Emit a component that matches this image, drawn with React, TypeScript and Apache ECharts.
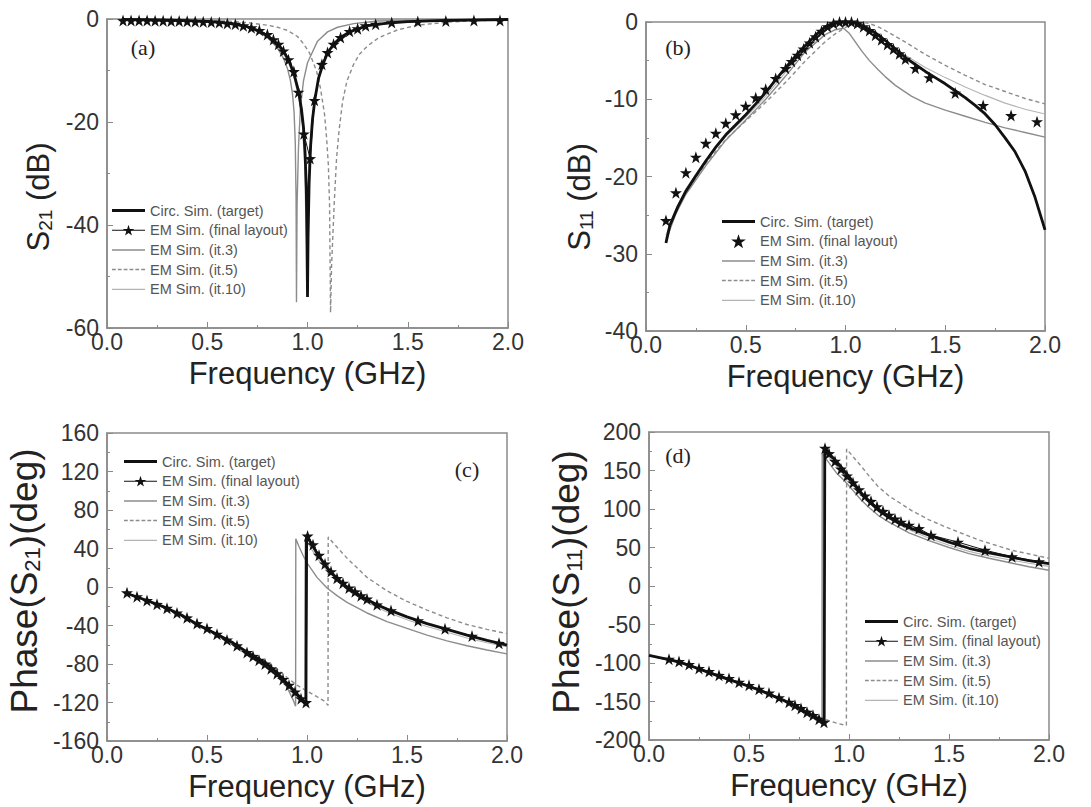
import React, { useEffect, useRef } from "react";
import * as echarts from "echarts";

// ---------- data (frequency GHz, value) ----------
const freqTicks = [0, 0.5, 1.0, 1.5, 2.0];
const legendNames = ["Circ. Sim. (target)", "EM Sim. (final layout)", "EM Sim. (it.3)", "EM Sim. (it.5)", "EM Sim. (it.10)"];
const panelLabels = ["(a)", "(b)", "(c)", "(d)"];

// (a) |S21| dB
const aTarget = [[0.08,-0.1],[0.2,-0.15],[0.3,-0.2],[0.4,-0.3],[0.5,-0.45],[0.6,-0.8],[0.65,-1.1],[0.7,-1.5],[0.75,-2.2],[0.8,-3.2],[0.85,-4.8],[0.88,-6.2],[0.91,-8.3],[0.935,-11],[0.955,-14],[0.97,-17.5],[0.98,-21],[0.988,-26],[0.994,-33],[0.998,-44],[1.0,-54],[1.003,-42],[1.008,-32],[1.015,-25],[1.025,-19.5],[1.037,-15.6],[1.055,-11.5],[1.077,-8.8],[1.1,-6.6],[1.13,-4.9],[1.165,-3.6],[1.21,-2.5],[1.26,-1.8],[1.3,-1.3],[1.4,-0.8],[1.5,-0.5],[1.65,-0.3],[1.8,-0.2],[2.0,-0.1]];
const aFinal = [[0.08,-0.3],[0.12,-0.3],[0.16,-0.3],[0.2,-0.3],[0.24,-0.35],[0.28,-0.35],[0.32,-0.4],[0.36,-0.4],[0.4,-0.45],[0.44,-0.5],[0.48,-0.55],[0.52,-0.6],[0.56,-0.7],[0.6,-0.85],[0.64,-1.0],[0.68,-1.3],[0.72,-1.7],[0.76,-2.2],[0.8,-3.0],[0.83,-4.0],[0.855,-4.9],[0.88,-6.2],[0.905,-7.9],[0.932,-10.2],[0.955,-14.2],[0.982,-22.3],[1.013,-27.1],[1.035,-15.8],[1.072,-8.8],[1.1,-6.5],[1.13,-4.9],[1.165,-3.6],[1.21,-2.4],[1.25,-1.9],[1.29,-1.3],[1.34,-1.0],[1.42,-0.7],[1.55,-0.5],[1.69,-0.4],[1.83,-0.3],[1.96,-0.3]];
const aIt3 = [[0.08,-0.1],[0.3,-0.2],[0.5,-0.4],[0.6,-0.8],[0.7,-1.6],[0.75,-2.4],[0.8,-3.6],[0.85,-5.6],[0.88,-7.6],[0.9,-9.6],[0.915,-12],[0.925,-14.5],[0.933,-18],[0.939,-24],[0.943,-35],[0.945,-55],[0.948,-36],[0.955,-25],[0.965,-17],[0.98,-12],[1.0,-8.5],[1.05,-4.3],[1.1,-2.5],[1.15,-1.6],[1.23,-0.9],[1.35,-0.4],[1.6,-0.2],[2.0,-0.1]];
const aIt5 = [[0.08,-0.1],[0.4,-0.2],[0.6,-0.4],[0.7,-0.7],[0.8,-1.2],[0.85,-1.6],[0.9,-2.2],[0.95,-3.4],[0.98,-4.8],[1.01,-6.6],[1.045,-10.1],[1.065,-13.5],[1.085,-18.5],[1.095,-23],[1.104,-28.3],[1.11,-36],[1.115,-57],[1.12,-48],[1.133,-36],[1.145,-27],[1.157,-21.8],[1.175,-16],[1.197,-12],[1.23,-8.8],[1.26,-6.8],[1.3,-5.2],[1.357,-3.6],[1.45,-2.1],[1.55,-1.2],[1.7,-0.6],[1.85,-0.3],[2.0,-0.2]];
const aIt10 = [[0.08,-0.1],[0.5,-0.45],[0.7,-1.6],[0.8,-3.3],[0.85,-5.0],[0.9,-8.0],[0.93,-11],[0.955,-15],[0.975,-21],[0.985,-28],[0.992,-40],[0.995,-52],[0.998,-40],[1.005,-29],[1.02,-20],[1.035,-15.5],[1.06,-10.5],[1.09,-7.3],[1.13,-4.8],[1.2,-2.7],[1.3,-1.4],[1.5,-0.5],[2.0,-0.1]];

// (b) |S11| dB
const bTarget = [[0.1,-28.6],[0.12,-26.3],[0.16,-23.9],[0.2,-21.9],[0.25,-19.9],[0.3,-18.0],[0.35,-16.2],[0.4,-14.6],[0.45,-13.3],[0.5,-12.0],[0.55,-10.6],[0.6,-9.1],[0.65,-7.5],[0.7,-5.9],[0.75,-4.4],[0.8,-3.0],[0.85,-1.7],[0.9,-0.6],[0.95,-0.1],[1.0,0],[1.05,-0.1],[1.1,-0.7],[1.15,-1.4],[1.2,-2.4],[1.25,-3.5],[1.3,-4.6],[1.35,-5.5],[1.4,-6.4],[1.45,-7.2],[1.5,-8.0],[1.55,-8.9],[1.6,-9.8],[1.65,-10.8],[1.7,-11.9],[1.75,-13.3],[1.8,-15.0],[1.85,-16.8],[1.9,-19.3],[1.95,-22.7],[2.0,-26.9]];
const bFinal = [[0.1,-25.7],[0.15,-22.1],[0.2,-19.5],[0.25,-17.5],[0.3,-15.7],[0.35,-14.4],[0.4,-13.1],[0.45,-12.0],[0.5,-10.9],[0.55,-9.8],[0.6,-8.7],[0.65,-7.3],[0.7,-6.0],[0.73,-5.1],[0.76,-4.3],[0.79,-3.5],[0.82,-2.7],[0.85,-1.9],[0.88,-1.2],[0.91,-0.6],[0.94,-0.2],[0.97,0],[1.0,0],[1.03,0],[1.06,-0.2],[1.09,-0.6],[1.12,-1.1],[1.15,-1.7],[1.18,-2.3],[1.21,-2.9],[1.24,-3.5],[1.27,-4.1],[1.3,-4.8],[1.35,-6.0],[1.42,-7.2],[1.55,-9.2],[1.69,-10.8],[1.83,-12.1],[1.96,-12.9]];
const bIt3 = [[0.1,-28.3],[0.15,-24.8],[0.2,-22.3],[0.3,-18.6],[0.4,-15.3],[0.5,-12.7],[0.6,-10.0],[0.7,-7.0],[0.8,-3.8],[0.9,-1.6],[0.95,-1.0],[0.99,-0.8],[1.02,-1.5],[1.05,-2.6],[1.08,-3.7],[1.12,-5.0],[1.165,-6.2],[1.2,-7.1],[1.25,-8.2],[1.33,-9.6],[1.4,-10.5],[1.5,-11.4],[1.6,-12.2],[1.7,-13.0],[1.8,-13.7],[1.9,-14.3],[2.0,-14.9]];
const bIt5 = [[0.1,-28.0],[0.15,-24.6],[0.2,-22.0],[0.3,-18.3],[0.4,-15.2],[0.5,-12.8],[0.6,-10.4],[0.7,-7.8],[0.8,-5.0],[0.9,-2.5],[0.95,-1.5],[1.0,-0.7],[1.04,-0.2],[1.08,0],[1.12,-0.2],[1.17,-0.7],[1.22,-1.4],[1.3,-2.6],[1.4,-4.2],[1.5,-5.6],[1.6,-6.9],[1.7,-8.1],[1.8,-9.0],[1.9,-9.9],[2.0,-10.6]];
const bIt10 = [[0.1,-27.6],[0.15,-24.2],[0.2,-21.6],[0.3,-17.8],[0.4,-14.8],[0.5,-12.3],[0.6,-9.6],[0.7,-6.5],[0.8,-3.4],[0.9,-0.9],[0.95,-0.2],[1.0,0],[1.05,-0.2],[1.1,-0.8],[1.2,-2.5],[1.3,-4.3],[1.4,-5.9],[1.5,-7.2],[1.6,-8.4],[1.7,-9.5],[1.8,-10.5],[1.9,-11.3],[2.0,-11.9]];

// (c) Phase(S21) deg
const cTarget = [[0.09,-6],[0.2,-14],[0.3,-22],[0.38,-30],[0.46,-40],[0.55,-49],[0.63,-58],[0.71,-69],[0.8,-80],[0.85,-89],[0.9,-100],[0.95,-111],[0.98,-118],[0.995,-121],[0.997,54],[1.01,49],[1.05,35],[1.1,20],[1.15,9],[1.2,0],[1.25,-7],[1.3,-13],[1.35,-18.5],[1.4,-23],[1.5,-31],[1.6,-38],[1.7,-44],[1.8,-50],[1.9,-55.5],[2.0,-60.5]];
const cFinal = [[0.1,-6],[0.15,-10],[0.2,-14],[0.25,-18],[0.3,-22],[0.35,-27],[0.4,-32],[0.45,-38],[0.5,-43],[0.55,-49],[0.6,-55],[0.65,-61],[0.7,-68],[0.73,-72],[0.76,-76],[0.79,-80],[0.82,-85],[0.85,-90],[0.88,-96],[0.91,-102],[0.94,-109],[0.97,-116],[0.995,-120],[1.003,53],[1.03,44],[1.06,33],[1.09,24],[1.12,16],[1.15,9],[1.18,4],[1.21,-1],[1.24,-5],[1.27,-9],[1.3,-12.5],[1.35,-18.5],[1.42,-24.5],[1.555,-35],[1.69,-43.5],[1.825,-51],[1.96,-58.5]];
const cIt3 = [[0.09,-6],[0.3,-22],[0.5,-44],[0.7,-69],[0.8,-82],[0.85,-91],[0.9,-104],[0.93,-117],[0.943,-124],[0.944,50],[0.96,42],[0.98,33],[1.0,25],[1.05,10],[1.1,-1],[1.15,-9],[1.2,-16],[1.3,-27],[1.4,-36],[1.5,-43],[1.6,-50],[1.7,-56],[1.8,-61],[1.9,-65.5],[2.0,-69.5]];
const cIt5 = [[0.09,-6],[0.3,-22],[0.5,-43],[0.7,-67],[0.8,-78],[0.85,-85],[0.9,-94],[0.95,-102],[1.0,-108],[1.05,-114],[1.09,-119],[1.105,-123],[1.106,52],[1.13,46],[1.2,30],[1.3,10],[1.4,-4],[1.5,-15],[1.6,-24],[1.7,-32],[1.8,-39],[1.9,-44],[2.0,-48.5]];
const cIt10 = [[0.09,-6],[0.3,-22],[0.5,-44],[0.7,-68],[0.8,-80],[0.9,-101],[0.95,-112],[0.988,-121],[0.99,50],[1.0,47],[1.05,30],[1.1,17],[1.2,-3],[1.3,-16],[1.4,-26],[1.5,-34],[1.6,-41],[1.7,-47],[1.8,-53],[1.9,-58],[2.0,-62]];

// (d) Phase(S11) deg
const dTarget = [[0,-90],[0.1,-95.5],[0.15,-98.5],[0.2,-103],[0.3,-112.5],[0.4,-121.5],[0.48,-128.6],[0.55,-135],[0.65,-146],[0.72,-154],[0.78,-163],[0.83,-170],[0.876,-177],[0.879,180],[0.9,172],[0.95,158],[1.0,142],[1.06,121],[1.1,110],[1.15,98],[1.2,89],[1.25,82],[1.3,76],[1.35,71],[1.4,66],[1.5,57],[1.6,49],[1.7,43],[1.8,38],[1.9,33],[2.0,29]];
const dFinal = [[0.1,-95],[0.15,-98],[0.2,-102],[0.25,-107],[0.3,-111],[0.35,-116],[0.4,-120],[0.45,-125],[0.5,-129],[0.55,-134],[0.6,-139],[0.65,-145],[0.7,-151],[0.73,-155],[0.76,-159],[0.79,-164],[0.82,-168],[0.85,-173],[0.875,-177],[0.88,179],[0.9,172],[0.93,162],[0.96,152],[0.99,143],[1.02,134],[1.05,125],[1.08,117],[1.11,110],[1.14,103],[1.17,97],[1.2,92],[1.23,87],[1.26,83],[1.3,79],[1.35,74.6],[1.41,66],[1.545,57],[1.68,46.5],[1.815,38],[1.95,31.5]];
const dIt3 = [[0,-90],[0.2,-103],[0.4,-121.5],[0.6,-140],[0.7,-151],[0.78,-162],[0.83,-168],[0.865,-173],[0.866,172],[0.9,160],[0.94,146],[0.98,136],[1.02,124],[1.06,112],[1.1,102],[1.15,91],[1.2,83],[1.3,69],[1.4,59],[1.5,50],[1.6,42],[1.7,36],[1.8,30.5],[1.9,25],[2.0,20.5]];
const dIt5 = [[0,-90],[0.2,-103],[0.4,-121],[0.6,-139],[0.7,-150],[0.8,-162],[0.85,-170],[0.9,-175],[0.95,-179],[0.987,-181],[0.988,178],[1.02,168],[1.063,155],[1.1,143],[1.146,129],[1.2,117],[1.313,98],[1.4,86],[1.48,77],[1.646,60],[1.813,46.5],[2.0,36]];
const dIt10 = [[0,-90],[0.2,-103],[0.4,-121.5],[0.6,-140],[0.7,-151],[0.8,-165],[0.87,-176],[0.871,178],[0.9,167],[0.95,152],[1.0,137],[1.06,119],[1.1,108],[1.15,96],[1.2,87],[1.3,73],[1.4,62],[1.5,53],[1.6,45],[1.7,39],[1.8,34],[1.9,29.5],[2.0,25.5]];

const panelData = [
  [aTarget, aFinal, aIt3, aIt5, aIt10],
  [bTarget, bFinal, bIt3, bIt5, bIt10],
  [cTarget, cFinal, cIt3, cIt5, cIt10],
  [dTarget, dFinal, dIt3, dIt5, dIt10],
];

const yMin = [-60, -40, -160, -200];
const yMax = [0, 0, 160, 200];
const yStep = [20, 10, 40, 50];
const yTitles = ["S{s|21} (dB)", "S{s|11} (dB)", "Phase(S{s|21})(deg)", "Phase(S{s|11})(deg)"];

// ---------- layout ----------
const SANS = '"Liberation Sans", Arial, sans-serif';
const SERIF = '"Liberation Serif", "Times New Roman", serif';
const grids = [
  { left: 107, top: 19, width: 401, height: 309 },
  { left: 646, top: 22, width: 399, height: 309 },
  { left: 107, top: 433, width: 400, height: 308 },
  { left: 649, top: 432, width: 400, height: 308 },
];
const yNameGaps = [52, 50, 64, 64];
const yNameFont = [31, 31, 37, 37];
const yNamePad = [[0, 47, 0, 0], [0, 41, 0, 0], [0, 0, 0, 12], [0, 0, 0, 8]];
const legendPos = [
  { left: 112, top: 203 },
  { left: 722, top: 214 },
  { left: 124, top: 454 },
  { left: 865, top: 614 },
];
const labelPos = [
  [143, 47],
  [678, 47],
  [467, 469],
  [678, 455],
];
const STAR = "path://M50,0 L54.11,12.34 L67.12,12.44 L56.66,20.16 L60.58,32.56 L50,25 L39.42,32.56 L43.34,20.16 L32.88,12.44 L45.89,12.34 Z";
const ICON_THICK = "path://M0,0 H100 V9 H0 Z";
const ICON_MED = "path://M0,0 H100 V4.5 H0 Z";
const ICON_THIN = "path://M0,0 H100 V3.5 H0 Z";
const ICON_DASH = "path://M0,0 H11 V4.5 H0 Z M17,0 H28 V4.5 H17 Z M34,0 H45 V4.5 H34 Z M51,0 H62 V4.5 H51 Z M68,0 H79 V4.5 H68 Z M85,0 H96 V4.5 H85 Z";
const ICON_STARLINE = "path://M0,15 H100 V18 H0 Z M50,0 L54.11,12.34 L67.12,12.44 L56.66,20.16 L60.58,32.56 L50,25 L39.42,32.56 L43.34,20.16 L32.88,12.44 L45.89,12.34 Z";

function buildOption() {
  const xAxis: any[] = [];
  const yAxis: any[] = [];
  const series: any[] = [];
  const legend: any[] = [];
  for (let p = 0; p < 4; p++) {
    xAxis.push({
      type: "value",
      gridIndex: p,
      min: freqTicks[0],
      max: freqTicks[freqTicks.length - 1],
      interval: 0.5,
      name: "Frequency (GHz)",
      nameLocation: "middle",
      nameGap: 30,
      nameTextStyle: { fontFamily: SANS, fontSize: 31, color: "#222" },
      axisLine: { show: true, onZero: false, lineStyle: { color: "#8a8a8a", width: 1.5 } },
      axisTick: { show: true, inside: true, length: 6, lineStyle: { color: "#8a8a8a" } },
      minorTick: { show: true, splitNumber: 2, length: 3, lineStyle: { color: "#8a8a8a" } },
      splitLine: { show: false },
      axisLabel: {
        margin: 2,
        fontFamily: SANS,
        fontSize: 23,
        color: "#333",
        formatter: (v: number) => v.toFixed(1),
      },
    });
    yAxis.push({
      type: "value",
      gridIndex: p,
      min: yMin[p],
      max: yMax[p],
      interval: yStep[p],
      name: yTitles[p],
      nameLocation: "middle",
      nameRotate: 90,
      nameGap: yNameGaps[p],
      nameTextStyle: {
        fontFamily: SANS,
        fontSize: yNameFont[p],
        color: "#222",
        padding: yNamePad[p],
        rich: {
          s: { fontFamily: SANS, fontSize: Math.round(yNameFont[p] * 0.6), color: "#222", verticalAlign: "bottom", padding: [14, 0, 0, 0] },
        },
      },
      axisLine: { show: true, onZero: false, lineStyle: { color: "#8a8a8a", width: 1.5 } },
      axisTick: { show: true, inside: true, length: 6, lineStyle: { color: "#8a8a8a" } },
      minorTick: { show: true, splitNumber: 2, length: 3, lineStyle: { color: "#8a8a8a" } },
      splitLine: { show: false },
      axisLabel: { margin: 8, fontFamily: SANS, fontSize: 23, color: "#333" },
    });
    const d = panelData[p];
    const base = { type: "line", xAxisIndex: p, yAxisIndex: p, showSymbol: false, symbol: "none" };
    series.push({ ...base, name: legendNames[4], data: d[4], z: 1, lineStyle: { color: "#b4b4b4", width: 1.1 }, itemStyle: { color: "#b4b4b4" } });
    series.push({ ...base, name: legendNames[3], data: d[3], z: 2, lineStyle: { color: "#8c8c8c", width: 1.4, type: [4, 3] }, itemStyle: { color: "#8c8c8c" } });
    series.push({ ...base, name: legendNames[2], data: d[2], z: 3, lineStyle: { color: "#8c8c8c", width: 1.4 }, itemStyle: { color: "#8c8c8c" } });
    series.push({ ...base, name: legendNames[0], data: d[0], z: 4, lineStyle: { color: "#111", width: 2.8 }, itemStyle: { color: "#111" } });
    series.push({
      type: "line",
      xAxisIndex: p,
      yAxisIndex: p,
      name: legendNames[1],
      data: d[1],
      z: 5,
      showSymbol: true,
      symbol: STAR,
      symbolSize: 12,
      lineStyle: { color: "#111", width: 1, opacity: p === 1 ? 0 : 1 },
      itemStyle: { color: "#111" },
    });
    const icons = [ICON_THICK, p === 1 ? STAR : ICON_STARLINE, ICON_MED, ICON_DASH, ICON_THIN];
    legend.push({
      orient: "vertical",
      left: legendPos[p].left,
      top: legendPos[p].top,
      padding: 0,
      itemGap: 4.7,
      itemWidth: 33,
      itemHeight: 14,
      selectedMode: false,
      itemStyle: { borderWidth: 0 },
      textStyle: { fontFamily: SANS, fontSize: 14.5, color: "#555" },
      data: legendNames.map((n, i) => ({ name: n, icon: icons[i] })),
    });
  }
  const graphic = panelLabels.map((t, i) => ({
    type: "text",
    x: labelPos[i][0],
    y: labelPos[i][1],
    style: { text: t, fontFamily: SERIF, fontSize: 22, fill: "#222", align: "center", verticalAlign: "middle" },
  }));
  return {
    animation: false,
    backgroundColor: "#fff",
    grid: grids.map((g) => ({ ...g, show: true, borderColor: "#8a8a8a", borderWidth: 1.5, backgroundColor: "transparent" })),
    xAxis,
    yAxis,
    series,
    legend,
    graphic,
  };
}

export default function App() {
  const ref = useRef<HTMLDivElement>(null);
  useEffect(() => {
    if (!ref.current) return;
    const chart = echarts.init(ref.current, undefined, { renderer: "svg" });
    chart.setOption(buildOption() as any);
    return () => chart.dispose();
  }, []);
  return <div ref={ref} style={{ position: "absolute", left: 0, top: 0, width: 1091, height: 807, background: "#fff" }} />;
}
